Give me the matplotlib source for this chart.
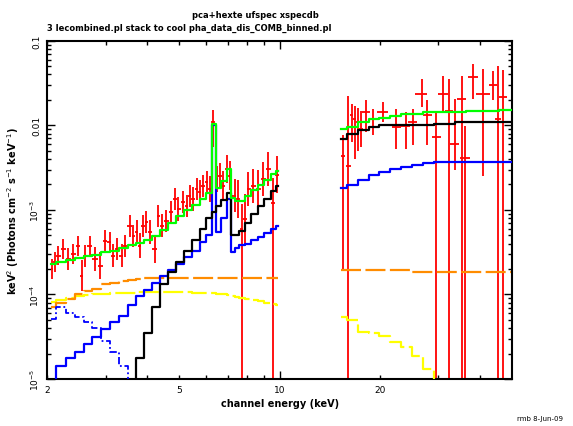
import numpy as np
import matplotlib
matplotlib.use("Agg")
import matplotlib.pyplot as plt
from matplotlib.ticker import FixedLocator, FuncFormatter, NullFormatter

# ---------------- text ----------------
title_line1 = "pca+hexte ufspec xspecdb"
title_line2 = "3 lecombined.pl stack to cool pha_data_dis_COMB_binned.pl"
x_label = "channel energy (keV)"
y_label = "keV$^2$ (Photons cm$^{-2}$ s$^{-1}$ keV$^{-1}$)"
stamp = "rmb 8-Jun-09"

x_tick_values = [2, 5, 10, 20]
x_tick_labels = ["2", "5", "10", "20"]
y_tick_values = [1e-5, 1e-4, 1e-3, 1e-2, 1e-1]
y_tick_labels = ["10$^{-5}$", "10$^{-4}$", "10$^{-3}$", "0.01", "0.1"]

# ---------------- PCA data ----------------
pca_energy = [2.07, 2.11, 2.16, 2.24, 2.32, 2.40, 2.48, 2.54, 2.60, 2.69,
              2.79, 2.89, 2.99, 3.09, 3.16, 3.24, 3.35, 3.43, 3.55, 3.63,
              3.72, 3.80, 3.89, 3.98, 4.08, 4.22, 4.32, 4.42, 4.57, 4.73,
              4.85, 4.96, 5.13, 5.26, 5.37, 5.50, 5.63, 5.76, 5.89, 6.03,
              6.17, 6.31, 6.47, 6.62, 6.77, 6.93, 7.09, 7.34, 7.50, 7.69,
              7.86, 8.05, 8.33, 8.62, 8.93, 9.24, 9.57, 9.84]
pca_flux = [2.00e-4, 2.40e-4, 2.88e-4, 3.45e-4, 2.63e-4, 3.01e-4, 3.78e-4, 1.67e-4, 2.88e-4, 3.78e-4,
            2.63e-4, 2.19e-4, 4.34e-4, 4.15e-4, 2.88e-4, 3.45e-4, 2.88e-4, 3.78e-4, 6.53e-4, 4.97e-4,
            5.44e-4, 3.78e-4, 6.53e-4, 7.14e-4, 5.44e-4, 3.45e-4, 8.57e-4, 6.53e-4, 7.48e-4, 9.38e-4,
            1.35e-3, 1.03e-3, 1.23e-3, 1.12e-3, 1.48e-3, 1.35e-3, 1.77e-3, 1.62e-3, 1.94e-3, 2.13e-3,
            1.77e-3, 1.10e-2, 2.33e-3, 2.55e-3, 1.94e-3, 3.05e-3, 2.55e-3, 1.48e-3, 1.35e-3, 5.96e-4,
            7.82e-4, 1.77e-3, 1.94e-3, 1.77e-3, 2.33e-3, 3.05e-3, 1.20e-3, 2.60e-3]
# vertical error bar lengths above / below the point, in decades
pca_err_up_dex = [0.12, 0.12, 0.11, 0.12, 0.13, 0.12, 0.12, 0.18, 0.13, 0.12,
                  0.14, 0.16, 0.12, 0.12, 0.14, 0.13, 0.14, 0.13, 0.13, 0.13,
                  0.14, 0.15, 0.13, 0.13, 0.14, 0.17, 0.13, 0.14, 0.13, 0.13,
                  0.13, 0.14, 0.13, 0.13, 0.13, 0.14, 0.13, 0.14, 0.13, 0.13,
                  0.15, 0.14, 0.15, 0.15, 0.17, 0.16, 0.17, 0.20, 0.22, 0.30,
                  0.30, 0.20, 0.20, 0.22, 0.20, 0.20, 0.30, 0.22]
pca_err_down_dex = [0.12, 0.12, 0.11, 0.12, 0.13, 0.12, 0.12, 0.18, 0.13, 0.12,
                    0.14, 0.16, 0.12, 0.12, 0.14, 0.13, 0.14, 0.13, 0.13, 0.13,
                    0.14, 0.15, 0.13, 0.13, 0.14, 0.17, 0.13, 0.14, 0.13, 0.13,
                    0.13, 0.14, 0.13, 0.13, 0.13, 0.14, 0.13, 0.14, 0.13, 0.13,
                    0.15, 0.30, 0.15, 0.15, 0.17, 0.16, 0.17, 0.20, 0.22, 3.00,
                    0.30, 0.20, 0.20, 0.22, 0.20, 0.20, 3.00, 0.22]

# ---------------- HEXTE data ----------------
hexte_energy = [15.5, 16.1, 16.45, 16.8, 17.2, 17.6, 18.15, 19.1, 20.4, 22.4,
                23.9, 25.1, 26.7, 27.8, 29.6, 31.0, 32.3, 33.6, 35.2, 36.0,
                38.1, 40.9, 43.8, 45.3, 46.9]
hexte_flux = [4.4e-3, 3.3e-3, 1.31e-2, 1.19e-2, 1.09e-2, 9.1e-3, 1.43e-2, 1.19e-2, 1.43e-2, 9.5e-3,
              9.95e-3, 1.09e-2, 2.36e-2, 1.31e-2, 7.2e-3, 2.36e-2, 1.5e-2, 6.0e-3, 2.06e-2, 4.1e-3,
              3.75e-2, 2.36e-2, 3.0e-2, 1.19e-2, 2.15e-2]
hexte_low = [2.0e-4, 1e-7, 6.3e-3, 4.0e-3, 5.0e-3, 5.5e-3, 8.3e-3, 7.6e-3, 1.09e-2, 5.3e-3,
             5.3e-3, 5.8e-3, 1.64e-2, 5.8e-3, 1e-7, 1.43e-2, 1e-7, 3.0e-3, 1e-7, 1e-7,
             2.06e-2, 2.55e-3, 2.0e-2, 1e-7, 1e-7]
hexte_high = [7.6e-3, 2.25e-2, 1.8e-2, 1.7e-2, 1.6e-2, 1.5e-2, 1.97e-2, 1.57e-2, 1.88e-2, 1.57e-2,
              1.43e-2, 1.57e-2, 3.55e-2, 1.97e-2, 1.43e-2, 3.8e-2, 3.5e-2, 2.06e-2, 3.8e-2, 9.95e-3,
              5.3e-2, 4.7e-2, 4.4e-2, 5.0e-2, 4.5e-2]
hexte_halfwidth = [0.2, 0.25, 0.2, 0.2, 0.2, 0.25, 0.5, 0.6, 0.8, 0.7,
                   0.8, 0.8, 1.1, 0.8, 0.9, 1.1, 0.9, 1.0, 1.1, 1.2,
                   1.4, 1.9, 1.2, 1.0, 1.2]

# ---------------- models (log10 of keV^2 flux) ----------------
pca_model_energy = [2.05, 2.2, 2.35, 2.5, 2.65, 2.8, 3.0, 3.2, 3.4, 3.6,
                    3.8, 4.0, 4.25, 4.5, 4.75, 5.0, 5.3, 5.6, 5.9, 6.15,
                    6.35, 6.55, 6.8, 7.05, 7.25, 7.45, 7.7, 8.0, 8.4, 8.8,
                    9.2, 9.6, 9.9]
log_total_pca = [-3.64, -3.62, -3.59, -3.57, -3.55, -3.53, -3.50, -3.48, -3.45, -3.42,
                 -3.39, -3.36, -3.31, -3.24, -3.15, -3.07, -3.00, -2.94, -2.87, -2.80,
                 -1.98, -2.74, -2.66, -2.52, -2.86, -2.90, -2.90, -2.84, -2.77, -2.70,
                 -2.64, -2.58, -2.54]
log_black_pca = [np.nan, np.nan, np.nan, np.nan, np.nan, np.nan, np.nan, np.nan, np.nan, -5.10,
                 -4.75, -4.45, -4.15, -3.88, -3.73, -3.62, -3.48, -3.35, -3.22, -3.10,
                 -3.02, -2.95, -2.88, -2.80, -3.30, -3.30, -3.25, -3.15, -3.05, -2.95,
                 -2.87, -2.78, -2.72]
log_blue_pca = [-5.10, -4.85, -4.75, -4.68, -4.58, -4.50, -4.41, -4.33, -4.25, -4.12,
                -4.02, -3.95, -3.86, -3.78, -3.71, -3.64, -3.56, -3.48, -3.38, -3.30,
                -2.00, -3.26, -3.10, -2.87, -3.50, -3.45, -3.42, -3.40, -3.36, -3.32,
                -3.27, -3.22, -3.19]
log_bluedot_pca = [-4.29, -4.15, -4.22, -4.27, -4.32, -4.40, -4.55, -4.68, -4.84, -5.10,
                   np.nan, np.nan, np.nan, np.nan, np.nan, np.nan, np.nan, np.nan, np.nan, np.nan,
                   np.nan, np.nan, np.nan, np.nan, np.nan, np.nan, np.nan, np.nan, np.nan, np.nan,
                   np.nan, np.nan, np.nan]
log_orange_pca = [-4.15, -4.10, -4.05, -4.00, -3.96, -3.93, -3.88, -3.86, -3.84, -3.83,
                  -3.82, -3.81, -3.81, -3.80, -3.80, -3.80, -3.80, -3.80, -3.80, -3.80,
                  -3.80, -3.80, -3.80, -3.80, -3.80, -3.80, -3.80, -3.80, -3.80, -3.80,
                  -3.80, -3.80, -3.80]
log_yellow_pca = [-4.09, -4.06, -4.04, -4.02, -4.01, -4.00, -3.99, -3.98, -3.98, -3.98,
                  -3.97, -3.97, -3.97, -3.97, -3.97, -3.97, -3.97, -3.98, -3.98, -3.98,
                  -3.98, -3.99, -4.00, -4.01, -4.02, -4.03, -4.04, -4.05, -4.07, -4.08,
                  -4.10, -4.11, -4.12]

hexte_model_energy = [15.3, 16.5, 17.8, 19.2, 20.7, 22.3, 24.0, 25.9, 27.9, 30.1,
                      32.4, 35.0, 37.7, 40.6, 43.8, 47.2, 49.5]
log_total_hexte = [-2.04, -2.02, -1.96, -1.93, -1.91, -1.89, -1.87, -1.86, -1.84, -1.84,
                   -1.84, -1.84, -1.83, -1.83, -1.83, -1.82, -1.82]
log_black_hexte = [-2.16, -2.10, -2.05, -2.02, -2.00, -2.00, -1.99, -1.99, -1.99, -1.98,
                   -1.98, -1.96, -1.96, -1.96, -1.96, -1.96, -1.96]
log_blue_hexte = [-2.74, -2.70, -2.64, -2.59, -2.55, -2.51, -2.49, -2.47, -2.45, -2.43,
                  -2.43, -2.43, -2.43, -2.43, -2.43, -2.43, -2.43]
log_orange_hexte = [-3.71, -3.71, -3.71, -3.71, -3.71, -3.71, -3.71, -3.73, -3.73, -3.73,
                    -3.73, -3.73, -3.73, -3.73, -3.73, -3.73, -3.73]
log_yellow_hexte = [-4.27, -4.30, -4.44, -4.46, -4.49, -4.56, -4.62, -4.73, -4.88, -5.10,
                    np.nan, np.nan, np.nan, np.nan, np.nan, np.nan, np.nan]

# ---------------- figure ----------------
plt.rcParams["font.family"] = ["DejaVu Sans"]
fig = plt.figure(figsize=(5.73, 4.27), dpi=100)
ax = fig.add_axes([0.082, 0.110, 0.812, 0.792])
ax.set_xscale("log")
ax.set_yscale("log")
ax.set_xlim(2, 50)
ax.set_ylim(1e-5, 0.1)

RED = "#ff0000"
GREEN = "#00ff00"
BLUE = "#0000ff"
ORANGE = "#ff8c00"
YELLOW = "#ffff00"

# PCA data: bin half-widths from neighbouring bin centres
e = np.array(pca_energy)
edges = np.sqrt(e[1:] * e[:-1])
lo_edges = np.concatenate([[e[0] ** 2 / edges[0]], edges])
hi_edges = np.concatenate([edges, [e[-1] ** 2 / edges[-1]]])
f = np.array(pca_flux)
du = np.array(pca_err_up_dex)
dd = np.array(pca_err_down_dex)
ax.errorbar(e, f, xerr=[e - lo_edges, hi_edges - e],
            yerr=[f - f * 10 ** (-dd), f * 10 ** du - f], fmt="none", ecolor=RED,
            elinewidth=1.3, capsize=0, zorder=2)

he = np.array(hexte_energy)
hf = np.array(hexte_flux)
ax.errorbar(he, hf, xerr=np.array(hexte_halfwidth),
            yerr=[hf - np.array(hexte_low), np.array(hexte_high) - hf],
            fmt="none", ecolor=RED, elinewidth=1.3, capsize=0, zorder=2)

def steps(E, logv, **kw):
    ax.step(E, 10 ** np.array(logv, dtype=float), where="mid", **kw)

lw = 1.6
steps(pca_model_energy, log_yellow_pca, color=YELLOW, lw=lw, dashes=(9, 2), zorder=3)
steps(pca_model_energy, log_orange_pca, color=ORANGE, lw=lw, dashes=(9, 2), zorder=3)
steps(pca_model_energy, log_bluedot_pca, color=BLUE, lw=1.3, dashes=(4, 1.5, 1, 1.5), zorder=3)
steps(pca_model_energy, log_blue_pca, color=BLUE, lw=lw, zorder=4)
steps(pca_model_energy, log_black_pca, color="black", lw=lw, zorder=4)
steps(pca_model_energy, log_total_pca, color=GREEN, lw=lw, zorder=5)

steps(hexte_model_energy, log_yellow_hexte, color=YELLOW, lw=lw, dashes=(9, 2), zorder=3)
steps(hexte_model_energy, log_orange_hexte, color=ORANGE, lw=lw, dashes=(9, 2), zorder=3)
steps(hexte_model_energy, log_blue_hexte, color=BLUE, lw=lw, zorder=4)
steps(hexte_model_energy, log_black_hexte, color="black", lw=lw, zorder=4)
steps(hexte_model_energy, log_total_hexte, color=GREEN, lw=lw, zorder=5)

# ticks
ax.xaxis.set_major_locator(FixedLocator([10]))
ax.xaxis.set_minor_locator(FixedLocator([2, 3, 4, 5, 6, 7, 8, 9, 20, 30, 40]))
xlabmap = dict(zip(x_tick_values, x_tick_labels))
fmt_x = FuncFormatter(lambda v, p: xlabmap.get(int(round(v)), "") if abs(v - round(v)) < 1e-6 else "")
ax.xaxis.set_major_formatter(fmt_x)
ax.xaxis.set_minor_formatter(fmt_x)

ax.yaxis.set_major_locator(FixedLocator(y_tick_values))
minor_y = [m * 10.0 ** k for k in range(-5, -1) for m in range(2, 10)]
ax.yaxis.set_minor_locator(FixedLocator(minor_y))
ylabmap = dict(zip([round(np.log10(v)) for v in y_tick_values], y_tick_labels))
ax.yaxis.set_major_formatter(FuncFormatter(lambda v, p: ylabmap.get(int(round(np.log10(v))), "")))
ax.yaxis.set_minor_formatter(NullFormatter())

ax.tick_params(which="both", direction="in", top=True, right=True, width=1.0,
               labelsize=6.5, colors="black")
ax.tick_params(which="major", length=6)
ax.tick_params(which="minor", length=3)
ax.tick_params(axis="x", which="both", pad=4)
ax.tick_params(axis="y", which="major", pad=4, labelrotation=90)
for lab in ax.get_yticklabels():
    lab.set_va("center")
for sp in ax.spines.values():
    sp.set_linewidth(1.5)

ax.set_xlabel(x_label, fontsize=7, fontweight="bold", labelpad=3)
ax.set_ylabel(y_label, fontsize=7, fontweight="bold", labelpad=6)

fig.text(255 / 573, 1 - 16 / 427, title_line1, ha="center", va="center",
         fontsize=6, fontweight="bold")
fig.text(189 / 573, 1 - 28 / 427, title_line2, ha="center", va="center",
         fontsize=6, fontweight="bold")
fig.text(540 / 573, 1 - 419 / 427, stamp, ha="center", va="center", fontsize=5)

fig.savefig("out.png", dpi=100)
